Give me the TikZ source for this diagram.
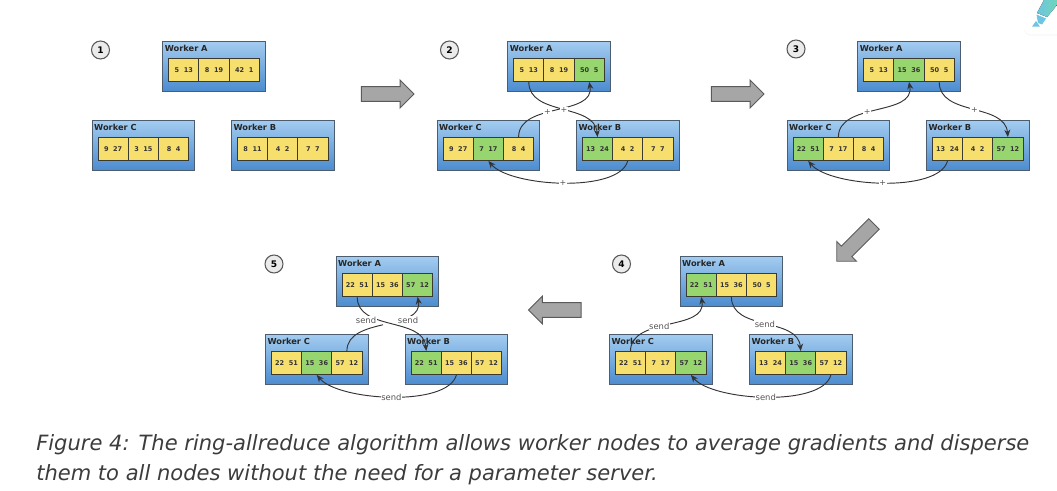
\documentclass[tikz,border=0pt]{standalone}
\usepackage{fontspec}
\setmainfont{DejaVu Sans}
\usetikzlibrary{arrows.meta,shapes.arrows}
\definecolor{boxtop}{HTML}{A3CCF0}
\definecolor{boxbot}{HTML}{4C8CCF}
\definecolor{boxline}{HTML}{4B5D6E}
\definecolor{oldfill}{HTML}{F7DF6E}
\definecolor{newfill}{HTML}{97D56E}
\definecolor{cellline}{HTML}{3A3A30}
\definecolor{wirecol}{HTML}{333333}
\definecolor{labelcol}{HTML}{555555}
\definecolor{blockfill}{HTML}{A6A6A6}
\definecolor{blockline}{HTML}{5A5A5A}
\definecolor{capcol}{HTML}{3C3C3C}
\definecolor{pengreen}{HTML}{6FD6B8}
\definecolor{penblue}{HTML}{6FC4E2}
% name, position, title, then style and text of the three cells
\newcommand{\worker}[9]{
  \begin{scope}[shift={(#2)}]
    \node[workerbox] (#1) at (0,0) {};
    \node[workertitle] (#1t) at (0,0) {#3};
    \node[#4] (#11) at (21.5,29) {#5};
    \node[#6] (#12) at (51.7,29) {#7};
    \node[#8] (#13) at (81.9,29) {#9};
  \end{scope}
}
\begin{document}
\begin{tikzpicture}[x=0.75pt,y=-0.75pt]
  \tikzset{
    workerbox/.style={draw=boxline,line width=0.8pt,top color=boxtop,bottom color=boxbot,
      minimum width=77pt,minimum height=37.2pt,anchor=north west,inner sep=0pt},
    workertitle/.style={anchor=north west,font=\bfseries\fontsize{6.2}{7}\selectfont,
      text=black!85,inner sep=0pt,xshift=1.7pt,yshift=-3pt},
    cellbox/.style={draw=cellline,line width=0.7pt,minimum width=22.6pt,minimum height=17.2pt,
      inner sep=0pt,font=\bfseries\fontsize{4.9}{6}\selectfont,text=black!80},
    oldcell/.style={cellbox,fill=oldfill},
    newcell/.style={cellbox,fill=newfill},
    wire/.style={draw=wirecol,line width=0.7pt,-{Stealth[length=5.5pt,width=4.5pt]}},
    gapmark/.style={circle,fill=white,minimum size=11pt,inner sep=0pt},
    plus/.style={fill=white,inner sep=0.6pt,text=labelcol,font=\fontsize{6}{6}\selectfont},
    send/.style={fill=white,inner sep=0.4pt,text=labelcol,font=\fontsize{6.3}{6.3}\selectfont},
    stepmark/.style={circle,draw=black!65,line width=0.8pt,fill=black!8,minimum size=13.5pt,
      inner sep=0pt,font=\bfseries\fontsize{6.8}{7}\selectfont},
    bigarrow/.style={single arrow,draw=blockline,line width=0.7pt,fill=blockfill,minimum height=39.5pt,
      inner xsep=0pt,inner ysep=5.2pt,single arrow head extend=4.9pt},
    caption/.style={anchor=base west,inner sep=0pt,text=capcol,
      font=\itshape\fontsize{15.78}{18}\selectfont}
  }
  \useasboundingbox (0,0) rectangle (1057,491);

  % corner badge
  \fill[black!5,rounded corners=5pt] (1024,-8) rectangle (1066,35.4);
  \fill[white,rounded corners=5pt] (1024,-8) rectangle (1066,34.6);
  \fill[left color=penblue,right color=pengreen] (1044,0) -- (1057,0) -- (1057,5) -- (1047,17) -- (1037,13) -- cycle;
  \fill[penblue] (1036.5,14.5) -- (1046,18.5) -- (1042,24.5) -- (1038,23) -- cycle;
  \fill[penblue] (1036,21) -- (1040,26.7) -- (1032,26.7) -- cycle;

  % 1
  \node[stepmark] (m1) at (100.5,50) {1};
  \worker{1a}{162.3,41}{Worker A}{oldcell}{5~~13}{oldcell}{8~~19}{oldcell}{42~~1}
  \worker{1c}{91.7,120}{Worker C}{oldcell}{9~~27}{oldcell}{3~~15}{oldcell}{8~~4}
  \worker{1b}{231,120}{Worker B}{oldcell}{8~~11}{oldcell}{4~~2}{oldcell}{7~~7}
  \node[bigarrow] (go1) at (384,94) {};

  % 2
  \node[stepmark] (m2) at (449.5,50) {2};
  \worker{2a}{507.3,41}{Worker A}{oldcell}{5~~13}{oldcell}{8~~19}{newcell}{50~~5}
  \worker{2c}{436.7,120}{Worker C}{oldcell}{9~~27}{newcell}{7~~17}{oldcell}{8~~4}
  \worker{2b}{576,120}{Worker B}{newcell}{13~~24}{oldcell}{4~~2}{oldcell}{7~~7}
  \draw[wire] (2c3.north) to[out=90,in=-80] node[plus,pos=0.42] (p2c) {+} (2a3.south);
  \draw[wire] (2a1.south) to[out=-90,in=95] node[plus,pos=0.52] (p2a) {+} (2b1.north);
  \draw[wire] (2b2.south) to[out=-105,in=-50,looseness=0.62] node[plus] (p2b) {+} (2c2.south);
  \node[bigarrow] (go2) at (734,94) {};

  % 3
  \node[stepmark] (m3) at (796,49) {3};
  \worker{3a}{857.3,41}{Worker A}{oldcell}{5~~13}{newcell}{15~~36}{oldcell}{50~~5}
  \worker{3c}{786.7,120}{Worker C}{newcell}{22~~51}{oldcell}{7~~17}{oldcell}{8~~4}
  \worker{3b}{926,120}{Worker B}{oldcell}{13~~24}{oldcell}{4~~2}{newcell}{57~~12}
  \draw[wire] (3c2.north) to[out=90,in=-80] node[plus,pos=0.42] (p3c) {+} (3a2.south);
  \draw[wire] (3a3.south) to[out=-90,in=95] node[plus,pos=0.52] (p3a) {+} (3b3.north);
  \draw[wire] (3b1.south) to[out=-105,in=-50,looseness=0.62] node[plus] (p3b) {+} (3c1.south);
  \node[bigarrow,rotate=225] (go3) at (858,240) {};

  % 4
  \node[stepmark] (m4) at (621.5,264) {4};
  \worker{4a}{679.7,256}{Worker A}{newcell}{22~~51}{oldcell}{15~~36}{oldcell}{50~~5}
  \worker{4c}{609,334}{Worker C}{oldcell}{22~~51}{oldcell}{7~~17}{newcell}{57~~12}
  \worker{4b}{749,334}{Worker B}{oldcell}{13~~24}{newcell}{15~~36}{oldcell}{57~~12}
  \draw[wire] (4c1.north) to[out=90,in=-80] node[send,pos=0.42] (s4c) {send} (4a1.south);
  \draw[wire] (4a2.south) to[out=-90,in=95] node[send,pos=0.5] (s4a) {send} (4b2.north);
  \draw[wire] (4b3.south) to[out=-105,in=-50,looseness=0.62] node[send] (s4b) {send} (4c3.south);
  \node[bigarrow,rotate=180] (go4) at (558.5,310) {};

  % 5
  \node[stepmark] (m5) at (274,264) {5};
  \worker{5a}{335.7,256}{Worker A}{oldcell}{22~~51}{oldcell}{15~~36}{newcell}{57~~12}
  \worker{5c}{265,334}{Worker C}{oldcell}{22~~51}{newcell}{15~~36}{oldcell}{57~~12}
  \worker{5b}{404.7,334}{Worker B}{newcell}{22~~51}{oldcell}{15~~36}{oldcell}{57~~12}
  \draw[wire] (5c3.north) to[out=90,in=-80] node[gapmark,pos=0.55] (g5) {} (5a3.south);
  \draw[wire] (5a1.south) to[out=-90,in=95] (5b1.north);
  \draw[wire] (5b2.south) to[out=-105,in=-50,looseness=0.62] node[send] (s5b) {send} (5c2.south);
  \node[send] (s5a) at (366,320) {send};
  \node[send] (s5c) at (408,320) {send};

  \node[caption] (cap1) at (36,451) {Figure 4: The ring-allreduce algorithm allows worker nodes to average gradients and disperse};
  \node[caption] (cap2) at (36,480) {them to all nodes without the need for a parameter server.};
\end{tikzpicture}
\end{document}
